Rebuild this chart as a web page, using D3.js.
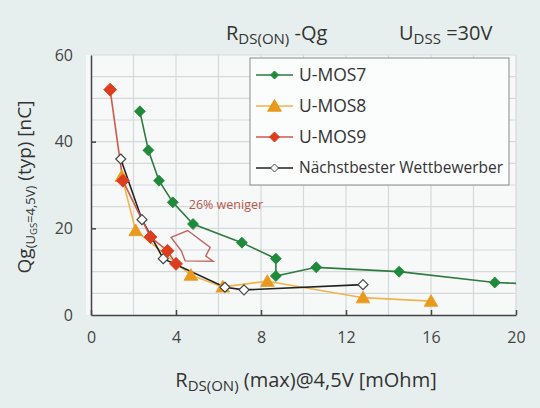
<!DOCTYPE html>
<html>
<head>
<meta charset="utf-8">
<script src="https://d3js.org/d3.v7.min.js"></script>
<style>
  body { margin: 0; background: #e7efee; }
  svg { display: block; font-family: "Open Sans", sans-serif; }
</style>
</head>
<body>
<div id="chart"></div>
<script>
// values: [RDS(on) mOhm, Qg nC]
var umos7 = [[2.3, 47], [2.7, 38], [3.2, 31], [3.85, 26], [4.8, 21], [7.1, 16.7],
             [8.7, 13], [8.7, 9], [10.6, 11], [14.5, 10], [19, 7.5], [21, 7.1]];
var umos8 = [[1.45, 32], [2.1, 19.5], [4.7, 9.2], [6.2, 6.5], [8.3, 7.8], [12.8, 4], [16, 3.2]];
var umos9 = [[0.9, 52], [1.5, 31], [2.8, 18], [3.6, 14.8], [4.0, 11.8]];
var rival = [[1.4, 36], [2.4, 22], [3.4, 13], [6.3, 6.4], [7.2, 5.8], [12.8, 7]];
var seriesNames = ["U-MOS7", "U-MOS8", "U-MOS9", "Nächstbester Wettbewerber"];
var xTicks = [0, 4, 8, 12, 16, 20];
var yTicks = [0, 20, 40, 60];
// hollow arrow annotation outline, in data units
var arrowShape = [[3.77, 17.9], [4.55, 19.5], [5.61, 15.6], [5.4, 13.6], [5.75, 12.4], [4.43, 12.5], [4.25, 14.8]];

var W = 540, H = 408;
var margin = { top: 55, right: 24, bottom: 93, left: 91 };
var width = W - margin.left - margin.right;
var height = H - margin.top - margin.bottom;

var svg = d3.select("#chart").append("svg")
  .attr("width", W).attr("height", H);

svg.append("rect").attr("width", W).attr("height", H).attr("fill", "#e7efee");

var g = svg.append("g")
  .attr("transform", "translate(" + margin.left + "," + margin.top + ")");

var x = d3.scaleLinear().domain([0, 20]).range([0, width]);
var y = d3.scaleLinear().domain([0, 60]).range([height, 0]);

// plot background
g.append("rect")
  .attr("x", -5).attr("y", 0)
  .attr("width", width + 5).attr("height", height)
  .attr("fill", "#f7f9f9");

// grid
g.append("g").selectAll("line")
  .data(d3.range(2, 21, 2))
  .enter().append("line")
  .attr("x1", function(d) { return x(d); })
  .attr("x2", function(d) { return x(d); })
  .attr("y1", 0).attr("y2", height)
  .attr("stroke", "#d6d9d9").attr("stroke-width", 1.2);

g.append("g").selectAll("line")
  .data(d3.range(5, 61, 5))
  .enter().append("line")
  .attr("x1", 0).attr("x2", width)
  .attr("y1", function(d) { return y(d); })
  .attr("y2", function(d) { return y(d); })
  .attr("stroke", "#d6d9d9").attr("stroke-width", 1.2);

// axes
var xAxis = g.append("g")
  .attr("transform", "translate(0," + height + ")")
  .call(d3.axisBottom(x).tickValues(xTicks).tickSizeInner(-5).tickSizeOuter(0).tickPadding(17));
var yAxis = g.append("g")
  .call(d3.axisLeft(y).tickValues(yTicks).tickSizeInner(-5).tickSizeOuter(0).tickPadding(18));
[xAxis, yAxis].forEach(function(a) {
  a.select(".domain").attr("stroke", "#444").attr("stroke-width", 1.5);
  a.selectAll(".tick line").attr("stroke", "#444").attr("stroke-width", 1.5);
  a.selectAll(".tick text").attr("fill", "#444").style("font-size", "16px")
    .style("font-family", "'Open Sans', sans-serif");
});
yAxis.selectAll(".tick").filter(function(d) { return d === 0 || d === 60; })
  .select("line").remove();

// clip for lines leaving the plot
svg.append("defs").append("clipPath").attr("id", "plotclip")
  .append("rect").attr("x", 0).attr("y", -10).attr("width", width).attr("height", height + 20);

var line = d3.line()
  .x(function(d) { return x(d[0]); })
  .y(function(d) { return y(d[1]); });

var styles = [
  { data: umos7, line: "#2f7a3e", fill: "#1f8a3a", stroke: "#1f8a3a", shape: "diamond", size: 11 },
  { data: umos8, line: "#f0b44a", fill: "#e99a1c", stroke: "#e99a1c", shape: "triangle", size: 13 },
  { data: umos9, line: "#cf5a4a", fill: "#dc3d1e", stroke: "#dc3d1e", shape: "diamond", size: 13 },
  { data: rival, line: "#222222", fill: "#ffffff", stroke: "#444444", shape: "diamond", size: 10 }
];

function markerPath(shape, s) {
  var h = s / 2;
  if (shape === "triangle") {
    return "M0," + (-h) + "L" + (h * 1.05) + "," + (h * 0.8) + "L" + (-h * 1.05) + "," + (h * 0.8) + "Z";
  }
  return "M0," + (-h) + "L" + h + ",0L0," + h + "L" + (-h) + ",0Z";
}

var plot = g.append("g").attr("clip-path", "url(#plotclip)");

// draw order: green, orange, black, red like the picture
[0, 1, 3, 2].forEach(function(i) {
  var s = styles[i];
  plot.append("path")
    .datum(s.data)
    .attr("fill", "none")
    .attr("stroke", s.line)
    .attr("stroke-width", 1.6)
    .attr("d", line);
});
[0, 1, 3, 2].forEach(function(i) {
  var s = styles[i];
  plot.selectAll(".m" + i)
    .data(s.data)
    .enter().append("path")
    .attr("transform", function(d) { return "translate(" + x(d[0]) + "," + y(d[1]) + ")"; })
    .attr("d", markerPath(s.shape, s.size))
    .attr("fill", s.fill)
    .attr("stroke", s.stroke)
    .attr("stroke-width", i === 3 ? 1.2 : 0.8);
});

// hollow arrow annotation
g.append("path")
  .datum(arrowShape)
  .attr("d", d3.line().x(function(d) { return x(d[0]); }).y(function(d) { return y(d[1]); }).curve(d3.curveLinearClosed))
  .attr("fill", "none")
  .attr("stroke", "#c0665c")
  .attr("stroke-width", 1.4);

g.append("text")
  .attr("x", x(4.6))
  .attr("y", y(24.5))
  .attr("fill", "#b8584c")
  .style("font-size", "12.5px")
  .text("26% weniger");

// legend
var legend = svg.append("g").attr("transform", "translate(250,58)");
legend.append("rect")
  .attr("width", 259).attr("height", 127)
  .attr("fill", "#fbfcfc")
  .attr("stroke", "#8a8a8a").attr("stroke-width", 1);
var legendSizes = [8, 13, 10, 8];
styles.forEach(function(s, i) {
  var row = legend.append("g").attr("transform", "translate(0," + (17 + i * 31) + ")");
  row.append("line")
    .attr("x1", 6).attr("x2", 43)
    .attr("stroke", s.line).attr("stroke-width", 1.6);
  row.append("path")
    .attr("transform", "translate(24.5,0)")
    .attr("d", markerPath(s.shape, legendSizes[i]))
    .attr("fill", s.fill)
    .attr("stroke", s.stroke)
    .attr("stroke-width", 1);
  row.append("text")
    .attr("x", 49).attr("y", 0)
    .attr("dy", "0.35em")
    .attr("fill", "#333")
    .style("font-size", i === 3 ? "15.5px" : "17.5px")
    .text(seriesNames[i]);
});

// title
var title = svg.append("text")
  .attr("x", 226).attr("y", 40)
  .attr("fill", "#333")
  .style("font-size", "20px");
title.append("tspan").text("R");
title.append("tspan").attr("dy", 4).style("font-size", "15px").text("DS(ON)");
title.append("tspan").attr("dy", -4).text(" -Qg");

var udss = svg.append("text")
  .attr("x", 399).attr("y", 40)
  .attr("fill", "#333")
  .style("font-size", "20px");
udss.append("tspan").text("U");
udss.append("tspan").attr("dy", 4).style("font-size", "15px").text("DSS");
udss.append("tspan").attr("dy", -4).text(" =30V");

// x axis label
var xl = svg.append("text")
  .attr("x", 306).attr("y", 387)
  .attr("text-anchor", "middle")
  .attr("fill", "#333")
  .style("font-size", "20px");
xl.append("tspan").text("R");
xl.append("tspan").attr("dy", 4).style("font-size", "15px").text("DS(ON)");
xl.append("tspan").attr("dy", -4).text(" (max)@4,5V [mOhm]");

// y axis label
var yl = svg.append("text")
  .attr("transform", "translate(31,187) rotate(-90)")
  .attr("text-anchor", "middle")
  .attr("fill", "#333")
  .style("font-size", "19px");
yl.append("tspan").text("Qg");
yl.append("tspan").attr("dy", 4).style("font-size", "13px").text("(U");
yl.append("tspan").attr("dy", 2).style("font-size", "9.5px").text("GS");
yl.append("tspan").attr("dy", -2).style("font-size", "13px").text("=4,5V)");
yl.append("tspan").attr("dy", -4).text(" (typ) [nC]");
</script>
</body>
</html>
